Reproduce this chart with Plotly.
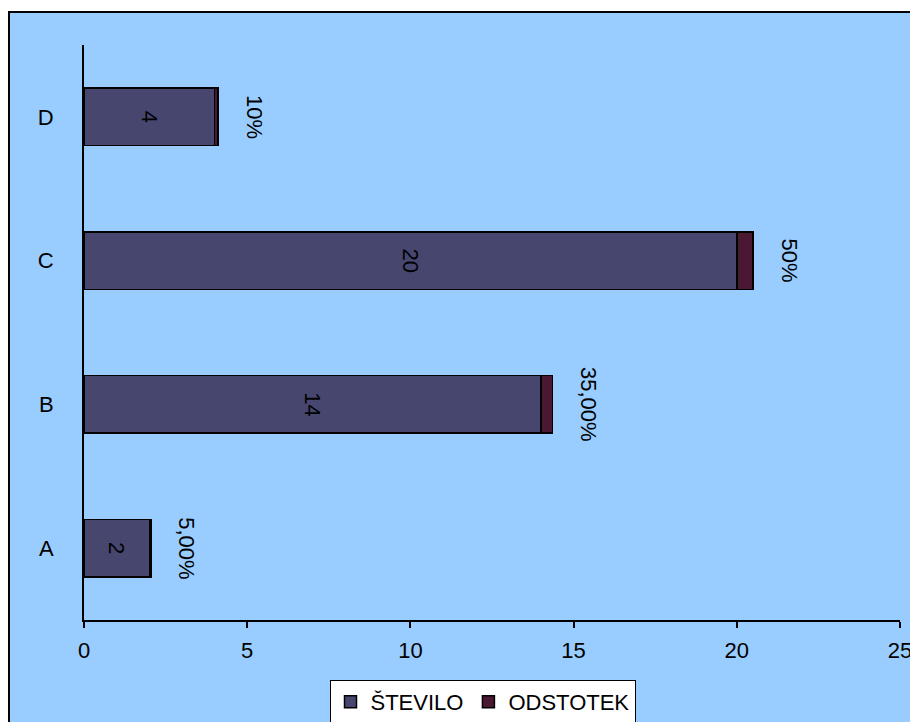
import plotly.graph_objects as go

categories = ["A", "B", "C", "D"]
stevilo = [2, 14, 20, 4]
odstotek = [0.05, 0.35, 0.50, 0.10]
odstotek_labels = ["5,00%", "35,00%", "50%", "10%"]
x_ticks = [0, 5, 10, 15, 20, 25]

FONT = "Liberation Sans, Arial, sans-serif"
FS = 22
W, H = 910, 714
L, R, T, B = 76, 18, 37, 102
pw, ph = W - L - R, H - T - B

fig = go.Figure()
fig.add_trace(go.Bar(
    y=categories, x=stevilo, orientation="h", name="ŠTEVILO",
    marker=dict(color="#46466F", line=dict(color="black", width=1.5)),
    text=[str(v) for v in stevilo], textposition="inside", textangle=90,
    insidetextanchor="middle", constraintext="none",
    insidetextfont=dict(color="black", size=FS, family=FONT),
))
fig.add_trace(go.Bar(
    y=categories, x=odstotek, orientation="h", name="ODSTOTEK",
    marker=dict(color="#4A1832", line=dict(color="black", width=1.5)),
))

totals = [s + o for s, o in zip(stevilo, odstotek)]
for cat, tot, lab in zip(categories, totals, odstotek_labels):
    fig.add_annotation(x=tot, y=cat, xref="x", yref="y", text=lab,
                       showarrow=False, textangle=90, xanchor="center",
                       yanchor="middle", xshift=36,
                       font=dict(size=FS, color="black", family=FONT))

def px_x(p):
    return (p - L) / pw

def px_y(p):
    return (H - B - p) / ph

fig.add_shape(type="rect", xref="paper", yref="paper",
              x0=px_x(1), x1=px_x(W + 20), y0=px_y(H + 20), y1=px_y(4),
              fillcolor="#99CCFF", line=dict(color="black", width=2),
              layer="below")

fig.update_layout(
    width=W, height=H,
    margin=dict(l=L, r=R, t=T, b=B, autoexpand=False),
    barmode="stack", bargap=0.6,
    paper_bgcolor="white", plot_bgcolor="rgba(0,0,0,0)",
    font=dict(family=FONT, size=FS, color="black"),
    showlegend=True,
    legend=dict(orientation="h", x=px_x(474.5), xanchor="center",
                y=px_y(672), yanchor="top", bgcolor="white",
                bordercolor="black", borderwidth=1,
                font=dict(size=FS, family=FONT), traceorder="normal",
                itemwidth=30),
    xaxis=dict(range=[0, 25], tickvals=x_ticks, ticktext=[str(t) for t in x_ticks],
               showline=True, linecolor="black", linewidth=2,
               ticks="outside", ticklen=6, tickwidth=2, tickcolor="black",
               ticklabelstandoff=4,
               showgrid=False, zeroline=False, fixedrange=True),
    yaxis=dict(categoryorder="array", categoryarray=categories,
               showline=True, linecolor="black", linewidth=2,
               ticks="", showgrid=False, zeroline=False,
               ticklabelstandoff=24),
)

fig.write_html("out.html")
